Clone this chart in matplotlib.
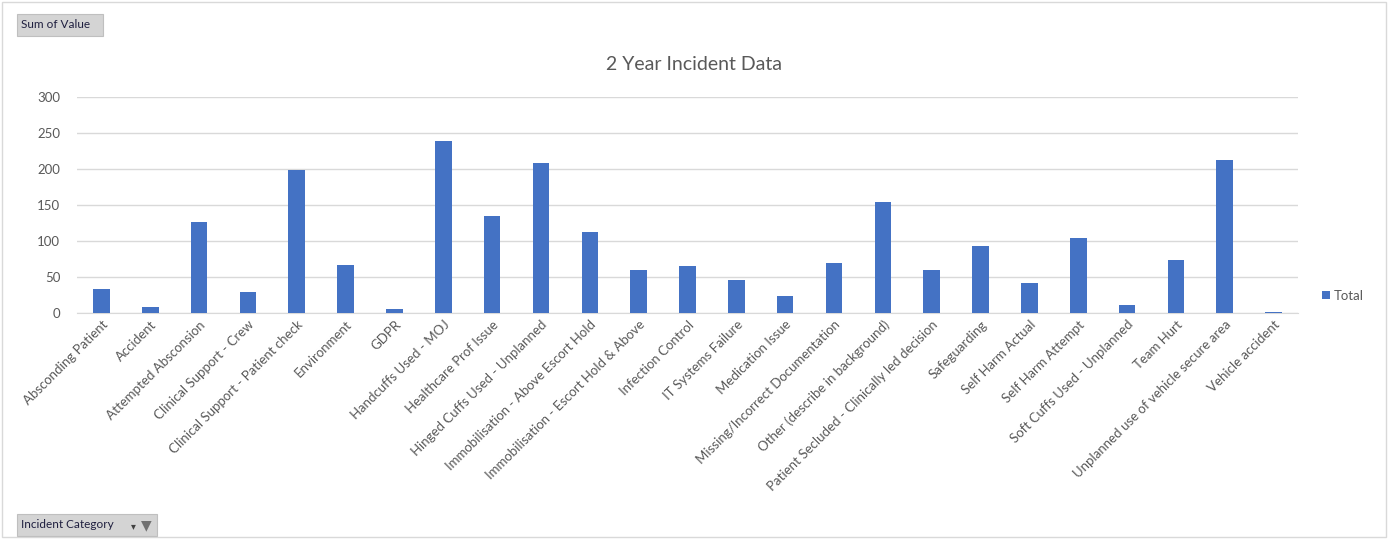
import numpy as np
import matplotlib.pyplot as plt
from matplotlib.patches import Rectangle

# chart data
categories = ['Absconding Patient', 'Accident', 'Attempted Absconsion', 'Clinical Support - Crew',
              'Clinical Support - Patient check', 'Environment', 'GDPR', 'Handcuffs Used - MOJ',
              'Healthcare Prof Issue', 'Hinged Cuffs Used - Unplanned', 'Immobilisation - Above Escort Hold',
              'Immobilisation - Escort Hold & Above', 'Infection Control', 'IT Systems Failure',
              'Medication Issue', 'Missing/Incorrect Documentation', 'Other (describe in background)',
              'Patient Secluded - Clinically led decision', 'Safeguarding', 'Self Harm Actual',
              'Self Harm Attempt', 'Soft Cuffs Used - Unplanned', 'Team Hurt',
              'Unplanned use of vehicle secure area', 'Vehicle accident']
totals = [33, 8, 126, 29, 199, 66, 5, 239, 135, 209, 113, 60, 65, 46, 24, 70, 154, 60, 93, 42,
          104, 11, 74, 212, 2]
y_ticks = [0, 50, 100, 150, 200, 250, 300]

plt.rcParams['font.family'] = ['Lato', 'DejaVu Sans']

W, H = 1388, 539
fig = plt.figure(figsize=(W / 100, H / 100), dpi=100)
ax = fig.add_axes([77 / W, 1 - 313 / H, (1298 - 77) / W, (313 - 97) / H])

x = np.arange(len(categories))
ax.bar(x, totals, width=0.34, color='#4472C4', label='Total', zorder=3)
ax.set_xlim(-0.5, len(categories) - 0.5)
ax.set_ylim(0, 300)
ax.set_yticks(y_ticks)
ax.yaxis.grid(True, color='#D9D9D9', linewidth=1, zorder=0)
for s in ['top', 'right', 'left']:
    ax.spines[s].set_visible(False)
ax.spines['bottom'].set_color('#D9D9D9')
ax.tick_params(axis='both', length=0, colors='#595959', labelsize=9.5)
ax.tick_params(axis='y', pad=12)
ax.set_xticks(x)
ax.set_xticklabels(categories, rotation=45, ha='right', rotation_mode='anchor')
ax.tick_params(axis='x', pad=4)

fig.text(694 / W, 1 - 64 / H, '2 Year Incident Data', ha='center', va='center',
         fontsize=14, color='#595959')

leg = ax.legend(loc='center left', bbox_to_anchor=(1.01, 0.08), frameon=False,
                handlelength=0.6, handleheight=0.6, handletextpad=0.3, fontsize=9.5)
for t in leg.get_texts():
    t.set_color('#595959')

# outer frame
fig.patches.append(Rectangle((2 / W, 2 / H), 1 - 4 / W, 1 - 4 / H, transform=fig.transFigure,
                             fill=False, edgecolor='#D9D9D9', linewidth=1))

# pivot field buttons
def field_button(x0, y0, w, h, label):
    fig.patches.append(Rectangle((x0 / W, 1 - (y0 + h) / H), w / W, h / H, transform=fig.transFigure,
                                 facecolor='#D4D4D4', edgecolor='#BFBFBF', linewidth=0.8))
    fig.text((x0 + 4) / W, 1 - (y0 + h / 2) / H, label, ha='left', va='center',
             fontsize=8.5, color='#1F1F3F')

field_button(17, 14, 86, 22, 'Sum of Value')
field_button(17, 514, 140, 22, 'Incident Category')
fig.text(133 / W, 1 - 526 / H, '\u25BE', ha='center', va='center', fontsize=7, color='#404040',
         family=['DejaVu Sans'])
fig.text(146 / W, 1 - 525 / H, '\u25BC', ha='center', va='center', fontsize=10, color='#707070',
         family=['DejaVu Sans'])

fig.savefig('out.png', dpi=100)
